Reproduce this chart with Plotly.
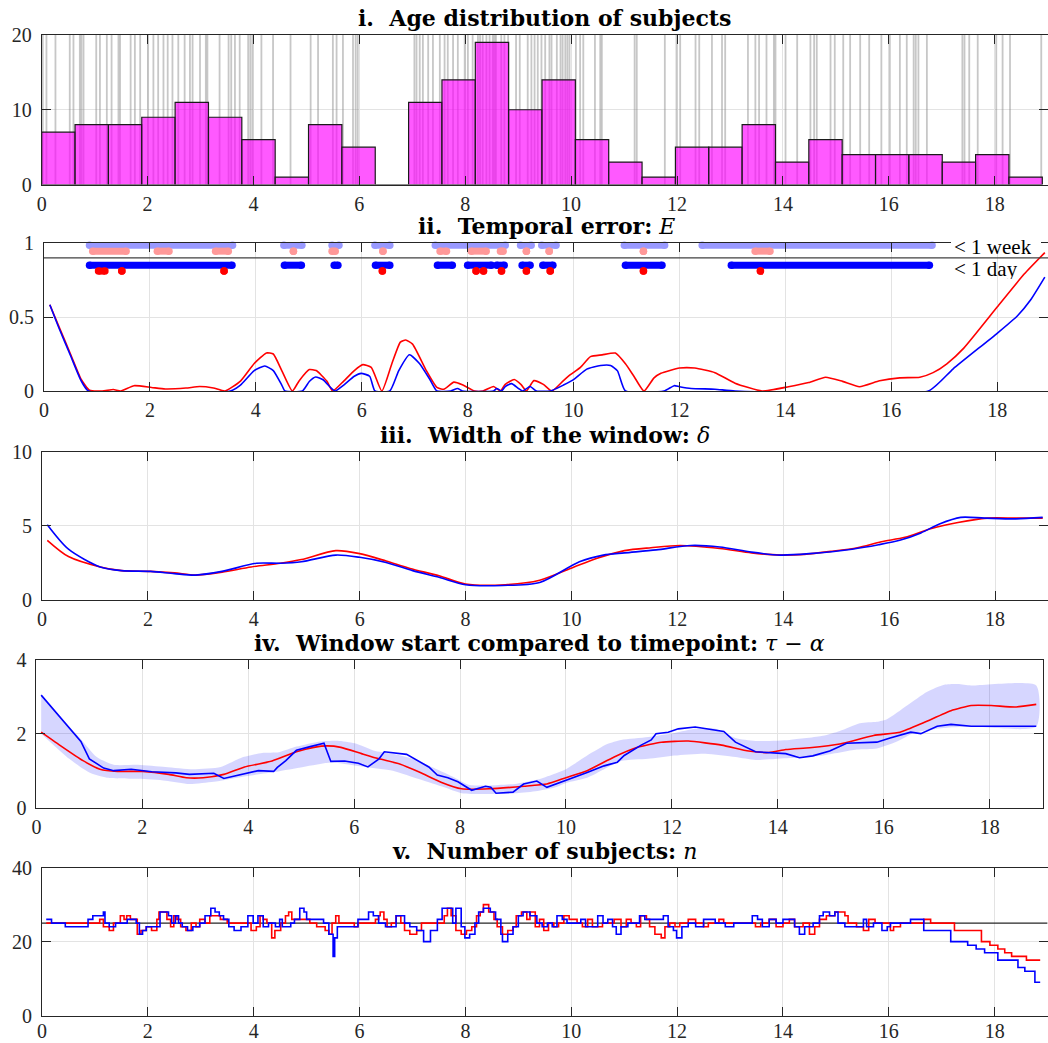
import plotly.graph_objects as go

W, H = 1048, 1043

# ---------------- data ----------------
# Panel i: histogram of subject ages (30 bins of width 0.63)
bin_width = 0.63
hist_counts = [7, 8, 8, 9, 11, 9, 6, 1, 8, 5, 0, 11, 14, 19, 10, 14, 6, 3, 1, 5,
               5, 8, 3, 6, 4, 4, 4, 3, 4, 1]
subject_ages = [0.02, 0.09, 0.26, 0.53, 0.60, 0.72, 0.75, 0.79, 1.03, 1.10, 1.23, 1.32,
                1.45, 1.48, 1.68, 1.76, 1.86, 2.01, 2.11, 2.20, 2.30, 2.38, 2.47, 2.58,
                2.70, 2.80, 2.85, 2.99, 3.10, 3.13, 3.36, 3.53, 3.58, 3.65, 3.74, 3.90,
                3.94, 3.98, 4.15, 4.37, 4.70, 5.08, 5.22, 5.50, 5.57, 5.69, 5.88, 5.93,
                5.97, 7.04, 7.08, 7.14, 7.20, 7.30, 7.39, 7.52, 7.61, 7.67, 7.77, 7.86,
                7.99, 8.05, 8.14, 8.24, 8.28, 8.33, 8.40, 8.46, 8.52, 8.55, 8.58, 8.68,
                8.74, 8.81, 8.96, 9.03, 9.18, 9.25, 9.31, 9.37, 9.44, 9.51, 9.59, 9.63,
                9.73, 9.80, 9.84, 9.89, 9.93, 9.97, 10.09, 10.17, 10.23, 10.45, 10.55,
                10.58, 11.20, 11.24, 11.77, 11.99, 12.06, 12.35, 12.42, 12.66, 12.85,
                12.91, 13.34, 13.48, 13.55, 13.69, 13.83, 13.86, 14.05, 14.27, 14.52,
                14.59, 14.64, 14.90, 14.98, 15.14, 15.27, 15.46, 15.63, 15.86, 16.02,
                16.21, 16.34, 16.47, 16.51, 16.56, 16.72, 17.39, 17.43, 17.52, 17.68,
                18.03, 18.15, 18.29, 18.88]

# Panel ii: temporal error E
err_red_x = [0.11, 0.3, 0.5, 0.7, 0.86, 1.1, 1.31, 1.45, 1.70, 2.03, 2.29, 2.68, 2.94, 3.2,
             3.42, 3.71, 3.97, 4.2, 4.33, 4.49, 4.69, 4.82, 5.01, 5.14, 5.34, 5.45, 5.66,
             5.86, 6.02, 6.18, 6.38, 6.57, 6.73, 6.83, 6.96, 7.22, 7.42, 7.55, 7.74, 7.90,
             8.13, 8.29, 8.49, 8.62, 8.71, 8.88, 9.01, 9.11, 9.25, 9.43, 9.59, 9.81, 9.94,
             10.13, 10.32, 10.54, 10.79, 10.98, 11.14, 11.33, 11.52, 11.65, 12.0, 12.29,
             12.67, 13.05, 13.56, 14.06, 14.44, 14.76, 15.08, 15.4, 15.78, 16.16, 16.54,
             16.79, 17.05, 17.37, 18.0, 18.51, 18.9]
err_red_y = [0.583, 0.42, 0.25, 0.08, 0.005, 0.0, 0.01, 0.0, 0.036, 0.024, 0.014, 0.02, 0.03,
             0.02, 0.0, 0.067, 0.186, 0.257, 0.25, 0.138, 0.0, 0.07, 0.145, 0.138, 0.067, 0.0,
             0.067, 0.138, 0.178, 0.16, 0.0, 0.186, 0.33, 0.345, 0.317, 0.138, 0.024, 0.012,
             0.06, 0.043, 0.0, 0.0, 0.03, 0.0, 0.045, 0.078, 0.043, 0.0, 0.07, 0.045, 0.0,
             0.07, 0.11, 0.16, 0.232, 0.244, 0.256, 0.184, 0.10, 0.0, 0.089, 0.12, 0.155,
             0.155, 0.124, 0.053, 0.0, 0.029, 0.057, 0.093, 0.065, 0.029, 0.069, 0.089,
             0.093, 0.124, 0.184, 0.29, 0.567, 0.79, 0.935]
err_blue_x = [0.11, 0.3, 0.5, 0.7, 0.84, 3.52, 3.71, 3.97, 4.17, 4.33, 4.49, 4.55, 4.88, 5.01,
              5.13, 5.27, 5.43, 5.5, 5.66, 5.86, 5.99, 6.15, 6.25, 6.53, 6.70, 6.90, 7.09,
              7.29, 7.42, 7.68, 7.81, 7.9, 8.49, 8.55, 8.64, 8.71, 8.83, 8.96, 9.04, 9.18,
              9.3, 9.56, 9.81, 10.0, 10.25, 10.51, 10.7, 10.83, 10.98, 11.71, 11.9, 12.0,
              12.22, 12.67, 13.05, 16.7, 17.17, 18.0, 18.38, 18.63, 18.9]
err_blue_y = [0.583, 0.41, 0.24, 0.07, 0.0, 0.0, 0.04, 0.138, 0.169, 0.138, 0.04, 0.0, 0.0,
              0.064, 0.095, 0.076, 0.017, 0.0, 0.04, 0.1, 0.119, 0.1, 0.0, 0.0, 0.138, 0.245,
              0.186, 0.076, 0.0, 0.0, 0.017, 0.0, 0.0, 0.017, 0.0, 0.03, 0.05, 0.017, 0.0,
              0.03, 0.0, 0.0, 0.04, 0.077, 0.148, 0.172, 0.172, 0.136, 0.0, 0.0, 0.036,
              0.029, 0.017, 0.012, 0.0, 0.0, 0.15, 0.39, 0.507, 0.615, 0.77]
err_threshold = 0.9

# intervals where the error is below the thresholds (dot rows)
week_blue_start = [0.86, 4.53, 5.44, 6.25, 7.39, 9.00, 9.40, 10.96, 12.43]
week_blue_end = [3.56, 4.87, 5.57, 6.53, 8.71, 9.20, 9.67, 11.72, 16.77]
week_red_start = [0.92, 2.14, 3.24, 4.71, 5.44, 6.40, 7.48, 8.07, 8.62, 9.11, 9.54, 11.32, 13.43]
week_red_end = [1.55, 2.36, 3.48, 4.71, 5.50, 6.40, 7.60, 8.35, 8.67, 9.11, 9.54, 11.32, 13.71]
day_blue_start = [0.86, 4.54, 5.48, 6.26, 7.43, 8.00, 8.55, 9.03, 9.42, 10.98, 12.98]
day_blue_end = [3.55, 4.86, 5.55, 6.53, 7.71, 8.45, 8.69, 9.18, 9.61, 11.67, 16.72]
day_red_start = [1.03, 1.47, 3.40, 6.39, 8.16, 8.30, 8.64, 9.11, 9.56, 11.32, 13.53]
day_red_end = [1.15, 1.47, 3.40, 6.39, 8.16, 8.30, 8.64, 9.11, 9.56, 11.32, 13.53]
row_levels = {"week_blue": 0.985, "week_red": 0.945, "day_blue": 0.85, "day_red": 0.81}

# Panel iii: width of the window delta
wid_red_x = [0.1, 0.5, 1.1, 1.5, 2.05, 2.5, 2.9, 3.4, 3.95, 4.5, 4.9, 5.55, 6.0, 6.5, 6.95,
             7.5, 8.0, 8.75, 9.4, 10.05, 10.5, 11.0, 11.5, 12.05, 12.8, 13.4, 13.95, 14.4,
             14.9, 15.4, 15.85, 16.3, 16.8, 17.3, 17.85, 18.4, 18.9]
wid_red_y = [4.0, 2.9, 2.2, 1.95, 1.9, 1.8, 1.65, 1.85, 2.2, 2.45, 2.7, 3.3, 3.1, 2.6, 2.1,
             1.6, 1.05, 1.0, 1.3, 2.2, 2.8, 3.3, 3.5, 3.65, 3.45, 3.15, 3.0, 3.05, 3.25, 3.5,
             3.9, 4.2, 4.8, 5.2, 5.5, 5.5, 5.5]
wid_blue_x = [0.1, 0.5, 1.1, 1.5, 2.05, 2.5, 2.9, 3.4, 4.05, 4.5, 4.9, 5.55, 6.0, 6.5, 7.0,
              7.5, 8.0, 8.7, 9.4, 10.15, 10.6, 11.0, 11.6, 12.25, 12.8, 13.4, 13.95, 14.5,
              15.3, 15.8, 16.2, 16.6, 16.95, 17.35, 17.8, 18.4, 18.9]
wid_blue_y = [5.05, 3.4, 2.2, 1.95, 1.9, 1.75, 1.65, 1.9, 2.45, 2.45, 2.55, 3.0, 2.85, 2.5,
              1.95, 1.5, 1.0, 0.95, 1.15, 2.55, 3.0, 3.15, 3.35, 3.65, 3.55, 3.2, 3.0, 3.1,
              3.4, 3.7, 4.0, 4.5, 5.1, 5.55, 5.5, 5.45, 5.55]

# Panel iv: window start compared to timepoint tau - alpha
st_red_x = [0.09, 0.48, 0.88, 1.2, 1.53, 2.01, 2.5, 2.83, 3.15, 3.54, 3.93, 4.45, 4.91, 5.24,
            5.49, 5.75, 6.14, 6.47, 6.86, 7.25, 7.64, 8.03, 8.55, 9.21, 9.64, 10.0, 10.4,
            10.91, 11.35, 11.8, 12.31, 12.94, 13.45, 13.83, 14.15, 14.6, 15.17, 15.81,
            16.31, 16.76, 17.27, 17.65, 18.03, 18.48, 18.88]
st_red_y = [2.04, 1.65, 1.27, 1.04, 0.98, 0.98, 0.9, 0.81, 0.81, 0.9, 1.1, 1.26, 1.51, 1.63,
            1.67, 1.63, 1.46, 1.32, 1.18, 0.95, 0.69, 0.51, 0.51, 0.58, 0.64, 0.81, 1.0,
            1.37, 1.63, 1.77, 1.8, 1.69, 1.53, 1.49, 1.57, 1.62, 1.72, 1.95, 2.04, 2.3,
            2.62, 2.76, 2.76, 2.72, 2.79]
st_blue_x = [0.09, 0.84, 1.0, 1.27, 1.46, 1.79, 2.18, 2.63, 2.89, 3.35, 3.54, 3.87, 4.19,
             4.48, 4.55, 4.71, 4.91, 5.17, 5.43, 5.56, 5.82, 6.08, 6.26, 6.47, 6.57, 6.99,
             7.41, 7.57, 7.77, 7.96, 8.22, 8.48, 8.58, 8.68, 9.0, 9.2, 9.45, 9.64, 10.0,
             10.4, 10.72, 10.97, 11.1, 11.42, 11.61, 11.7, 11.93, 12.12, 12.44, 12.69,
             12.98, 13.2, 13.58, 14.15, 14.41, 14.66, 14.98, 15.3, 15.87, 16.12, 16.51,
             16.7, 17.01, 17.27, 17.65, 18.88]
st_blue_y = [3.04, 1.79, 1.32, 1.07, 1.0, 1.04, 0.97, 0.94, 0.9, 0.93, 0.79, 0.9, 1.0, 0.98,
             1.09, 1.27, 1.55, 1.65, 1.74, 1.25, 1.26, 1.2, 1.1, 1.32, 1.51, 1.44, 1.1, 0.88,
             0.81, 0.7, 0.47, 0.58, 0.55, 0.39, 0.42, 0.64, 0.72, 0.55, 0.73, 0.95, 1.13,
             1.23, 1.41, 1.69, 1.83, 2.0, 2.04, 2.13, 2.18, 2.13, 2.06, 1.77, 1.51, 1.46,
             1.35, 1.4, 1.53, 1.74, 1.77, 1.88, 2.04, 2.0, 2.2, 2.25, 2.2, 2.2]
band_up_x = [0.09, 0.48, 0.84, 1.14, 1.46, 1.92, 2.44, 2.96, 3.48, 3.87, 4.26, 4.58, 4.91,
             5.36, 5.69, 6.01, 6.4, 6.79, 7.12, 7.51, 7.9, 8.16, 8.55, 9.07, 9.46, 9.75,
             10.0, 10.4, 10.78, 11.04, 11.55, 12.05, 12.44, 12.82, 13.2, 13.58, 14.22,
             14.85, 15.17, 15.55, 15.87, 16.06, 16.44, 16.82, 17.14, 17.4, 17.65, 18.88]
band_up_y = [3.04, 2.4, 1.85, 1.37, 1.16, 1.16, 1.1, 1.04, 1.1, 1.35, 1.48, 1.5, 1.65, 1.79,
             1.81, 1.74, 1.53, 1.44, 1.32, 1.07, 0.81, 0.62, 0.6, 0.65, 0.76, 0.9, 1.04,
             1.41, 1.72, 1.83, 1.91, 2.02, 2.13, 2.13, 1.88, 1.8, 1.83, 1.94, 2.07, 2.28,
             2.32, 2.39, 2.76, 3.13, 3.32, 3.34, 3.3, 3.3]
band_lo_x = [0.09, 0.62, 1.0, 1.33, 1.92, 2.44, 2.89, 3.35, 3.87, 4.52, 5.04, 5.56, 5.82,
             6.21, 6.73, 7.25, 7.7, 8.03, 8.55, 9.07, 9.46, 9.8, 10.0, 10.4, 10.72, 11.04,
             11.55, 12.05, 12.63, 13.2, 13.58, 14.22, 14.85, 15.49, 15.87, 16.25, 16.57,
             16.89, 17.2, 17.65, 18.88]
band_lo_y = [2.0, 1.32, 0.95, 0.81, 0.78, 0.73, 0.64, 0.7, 0.83, 0.97, 1.1, 1.22, 1.18, 1.1,
             1.0, 0.76, 0.55, 0.39, 0.37, 0.39, 0.45, 0.55, 0.67, 0.81, 1.04, 1.26, 1.32,
             1.41, 1.46, 1.37, 1.29, 1.34, 1.41, 1.57, 1.6, 1.79, 2.02, 2.11, 2.16, 2.19,
             2.19]

# Panel v: number of subjects n (step curves)
n_red_x = [0.08, 1.09, 1.16, 1.27, 1.35, 1.48, 1.55, 1.6, 1.67, 1.8, 1.87, 1.97, 2.07, 2.17,
           2.21, 2.36, 2.43, 2.49, 2.55, 2.62, 2.72, 2.82, 2.91, 2.98, 3.08, 3.17, 3.37,
           3.5, 3.95, 4.05, 4.12, 4.18, 4.25, 4.34, 4.4, 4.51, 4.6, 4.66, 4.72, 5.06, 5.19,
           5.35, 5.42, 5.48, 5.55, 5.61, 5.9, 5.97, 6.3, 6.36, 6.39, 6.46, 6.52, 6.6, 6.69,
           6.78, 6.85, 6.95, 7.08, 7.17, 7.6, 7.66, 7.73, 7.82, 7.92, 8.02, 8.12, 8.21,
           8.28, 8.34, 8.44, 8.54, 8.6, 8.7, 8.8, 8.9, 8.96, 9.06, 9.16, 9.22, 9.32, 9.4,
           9.48, 9.57, 9.67, 9.76, 9.86, 9.96, 10.11, 10.21, 10.31, 10.4, 10.59, 10.81,
           10.94, 11.04, 11.13, 11.23, 11.31, 11.42, 11.48, 11.58, 11.7, 11.77, 11.86,
           11.96, 12.05, 12.21, 12.35, 12.5, 12.59, 12.79, 12.88, 13.48, 13.58, 13.74,
           13.87, 14.0, 14.12, 14.22, 14.38, 14.5, 14.6, 14.69, 14.82, 14.98, 15.17, 15.23,
           15.39, 15.52, 15.62, 15.74, 16.03, 16.09, 16.22, 16.66, 16.79, 17.24, 17.75,
           17.91, 18.06, 18.19, 18.32, 18.6, 18.86]
n_red_y = [25, 26, 24, 23, 25, 27, 26, 27, 26, 22, 23, 24, 23, 26, 28, 26, 24, 27, 26, 24,
           23, 25, 24, 26, 25, 27, 26, 25, 23, 24, 27, 26, 25, 21, 23, 25, 27, 28, 26, 25,
           24, 23, 22, 25, 27, 25, 24, 25, 26, 27, 28, 26, 24, 25, 27, 25, 23, 22, 23, 25,
           27, 29, 27, 23, 22, 23, 24, 27, 28, 30, 28, 26, 24, 22, 23, 24, 27, 28, 26, 28,
           24, 26, 23, 25, 24, 25, 27, 26, 25, 24, 26, 24, 25, 26, 24, 26, 25, 24, 27, 26,
           24, 22, 21, 24, 25, 24, 25, 26, 25, 24, 25, 26, 25, 24, 25, 26, 24, 25, 26, 24,
           25, 22, 24, 26, 27, 28, 27, 25, 24, 23, 26, 25, 23, 24, 25, 26, 25, 23, 20, 19,
           18, 17, 16, 15, 15]
n_blue_x = [0.08, 0.18, 0.44, 0.87, 0.96, 1.16, 1.19, 1.27, 1.39, 1.61, 1.78, 1.84, 1.9,
            1.97, 2.23, 2.39, 2.45, 2.52, 2.58, 2.65, 2.75, 2.85, 2.98, 3.08, 3.19, 3.27,
            3.35, 3.43, 3.53, 3.63, 3.76, 3.89, 3.99, 4.08, 4.18, 4.28, 4.41, 4.49, 4.54,
            4.7, 4.77, 4.87, 4.95, 5.0, 5.32, 5.42, 5.5, 5.53, 5.58, 5.97, 6.17, 6.26, 6.36,
            6.49, 6.69, 6.85, 6.95, 7.08, 7.21, 7.34, 7.47, 7.56, 7.76, 7.82, 7.92, 7.99,
            8.08, 8.18, 8.25, 8.34, 8.47, 8.57, 8.67, 8.7, 8.8, 8.9, 9.0, 9.09, 9.22, 9.35,
            9.45, 9.55, 9.64, 9.73, 9.83, 9.92, 10.18, 10.27, 10.5, 10.6, 10.69, 10.78,
            10.85, 10.94, 11.07, 11.29, 11.39, 11.74, 11.83, 11.93, 11.99, 12.09, 12.21,
            12.35, 12.5, 12.72, 12.91, 13.07, 13.42, 13.52, 13.61, 13.74, 13.87, 14.0,
            14.22, 14.31, 14.41, 14.57, 14.69, 14.76, 14.88, 14.98, 15.04, 15.17, 15.52,
            15.58, 15.71, 15.87, 15.97, 16.03, 16.41, 16.66, 17.17, 17.49, 17.65, 17.81,
            18.06, 18.44, 18.57, 18.76, 18.86]
n_blue_y = [26, 25, 24, 26, 27, 28, 25, 24, 25, 26, 25, 22, 23, 24, 28, 27, 25, 27, 25, 24,
            23, 24, 25, 27, 29, 28, 27, 26, 24, 23, 24, 27, 25, 27, 24, 25, 24, 26, 24, 25,
            26, 29, 28, 26, 25, 22, 16, 21, 24, 26, 28, 27, 25, 24, 27, 25, 24, 23, 20, 23,
            26, 29, 25, 29, 24, 21, 22, 25, 28, 29, 28, 26, 22, 20, 22, 24, 27, 28, 27, 25,
            24, 25, 24, 27, 26, 25, 26, 24, 27, 25, 26, 24, 22, 24, 25, 27, 26, 27, 24, 23,
            21, 24, 25, 24, 26, 25, 24, 25, 27, 26, 24, 26, 25, 26, 24, 22, 24, 25, 27, 28,
            27, 28, 25, 24, 26, 24, 25, 23, 24, 25, 26, 23, 20, 19, 18, 17, 15, 13, 12, 9, 9]
n_target = 25

x_ticks = [0, 2, 4, 6, 8, 10, 12, 14, 16, 18]

# ---------------- layout geometry (pixels) ----------------
# (left, right, top, bottom, xmax)
panels = [
    (41.7, 1047.6, 35.0, 184.5, 19.0),
    (44.0, 1048.0, 243.0, 391.0, 18.96),
    (42.0, 1048.0, 451.5, 599.5, 19.0),
    (36.4, 1042.6, 659.6, 807.7, 19.0),
    (42.0, 1047.6, 867.6, 1015.6, 19.0),
]
x_label_standoff = [1, 1, 1, 1, -3]
y_specs = [
    ([0, 10, 20], ["0", "10", "20"], [0, 20]),
    ([0, 0.5, 1], ["0", "0.5", "1"], [0, 1.0]),
    ([0, 5, 10], ["0", "5", "10"], [0, 10]),
    ([0, 2, 4], ["0", "2", "4"], [0, 4]),
    ([0, 20, 40], ["0", "20", "40"], [0, 40]),
]
titles = [
    "<b>i.&nbsp; Age distribution of subjects</b>",
    "<b>ii.&nbsp; Temporal error:</b> <i>E</i>",
    "<b>iii.&nbsp; Width of the window:</b> <i>δ</i>",
    "<b>iv.&nbsp; Window start compared to timepoint:</b> <i>τ</i>&nbsp;−&nbsp;<i>α</i>",
    "<b>v.&nbsp; Number of subjects:</b> <i>n</i>",
]

AX = "#262626"
GRID = "#e3e3e3"
TICKFONT = dict(family="Liberation Serif", size=20, color=AX)
RED = "#ff0000"
BLUE = "#0000ff"

fig = go.Figure()


def ax_names(i):
    return ("x" if i == 0 else f"x{i+1}"), ("y" if i == 0 else f"y{i+1}")


# ---- panel i ----
xa, ya = ax_names(0)
fig.add_trace(go.Bar(x=subject_ages, y=[y_specs[0][2][1]] * len(subject_ages),
                     width=0.034, marker=dict(color="rgba(130,130,130,0.45)", line=dict(width=0)),
                     xaxis=xa, yaxis=ya, showlegend=False, hoverinfo="skip"))
bin_centers = [(k + 0.5) * bin_width for k in range(len(hist_counts))]
fig.add_trace(go.Bar(x=bin_centers, y=hist_counts, width=bin_width,
                     marker=dict(color="rgba(255,0,255,0.65)", line=dict(color="#1a1a1a", width=1.2)),
                     xaxis=xa, yaxis=ya, showlegend=False))

# ---- panel ii ----
xa, ya = ax_names(1)
fig.add_trace(go.Scatter(x=err_red_x, y=err_red_y, mode="lines",
                         line=dict(color=RED, width=1.6, shape="spline", smoothing=0.5),
                         xaxis=xa, yaxis=ya, showlegend=False))
fig.add_trace(go.Scatter(x=err_blue_x, y=err_blue_y, mode="lines",
                         line=dict(color=BLUE, width=1.6, shape="spline", smoothing=0.5),
                         xaxis=xa, yaxis=ya, showlegend=False))
fig.add_trace(go.Scatter(x=[0, panels[1][4]], y=[err_threshold, err_threshold], mode="lines",
                         line=dict(color="#404040", width=1.3), xaxis=xa, yaxis=ya,
                         showlegend=False, cliponaxis=False))


def dot_row(starts, ends, level, color):
    xs, ys = [], []
    for a, b in zip(starts, ends):
        xs += [a, b, None]
        ys += [level, level, None]
    return go.Scatter(x=xs, y=ys, mode="lines+markers", line=dict(color=color, width=7),
                      marker=dict(color=color, size=7.5, line=dict(width=0)),
                      xaxis=xa, yaxis=ya, showlegend=False, cliponaxis=False, connectgaps=False)


fig.add_trace(dot_row(week_blue_start, week_blue_end, row_levels["week_blue"], "#9999ff"))
fig.add_trace(dot_row(week_red_start, week_red_end, row_levels["week_red"], "#ff9999"))
fig.add_trace(dot_row(day_blue_start, day_blue_end, row_levels["day_blue"], BLUE))
fig.add_trace(dot_row(day_red_start, day_red_end, row_levels["day_red"], RED))

# ---- panel iii ----
xa, ya = ax_names(2)
fig.add_trace(go.Scatter(x=wid_red_x, y=wid_red_y, mode="lines", line=dict(color=RED, width=1.6, shape="spline", smoothing=0.8),
                         xaxis=xa, yaxis=ya, showlegend=False))
fig.add_trace(go.Scatter(x=wid_blue_x, y=wid_blue_y, mode="lines", line=dict(color=BLUE, width=1.6, shape="spline", smoothing=0.8),
                         xaxis=xa, yaxis=ya, showlegend=False))

# ---- panel iv ----
xa, ya = ax_names(3)
fig.add_trace(go.Scatter(x=band_up_x + band_lo_x[::-1], y=band_up_y + band_lo_y[::-1],
                         mode="lines", fill="toself", fillcolor="rgba(0,0,255,0.16)",
                         line=dict(width=0, shape="spline", smoothing=0.6), xaxis=xa, yaxis=ya, showlegend=False))
fig.add_trace(go.Scatter(x=st_red_x, y=st_red_y, mode="lines", line=dict(color=RED, width=1.6, shape="spline", smoothing=0.5),
                         xaxis=xa, yaxis=ya, showlegend=False))
fig.add_trace(go.Scatter(x=st_blue_x, y=st_blue_y, mode="lines", line=dict(color=BLUE, width=1.6),
                         xaxis=xa, yaxis=ya, showlegend=False))

# ---- panel v ----
xa, ya = ax_names(4)
fig.add_trace(go.Scatter(x=[0, panels[4][4]], y=[n_target, n_target], mode="lines",
                         line=dict(color="#262626", width=1.2), xaxis=xa, yaxis=ya, showlegend=False))
fig.add_trace(go.Scatter(x=n_red_x, y=n_red_y, mode="lines", line=dict(color=RED, width=1.6, shape="hv"),
                         xaxis=xa, yaxis=ya, showlegend=False))
fig.add_trace(go.Scatter(x=n_blue_x, y=n_blue_y, mode="lines", line=dict(color=BLUE, width=1.6, shape="hv"),
                         xaxis=xa, yaxis=ya, showlegend=False))

# ---------------- axes ----------------
layout = dict(width=W, height=H, margin=dict(l=0, r=0, t=0, b=0, pad=0), autosize=False,
              paper_bgcolor="white", plot_bgcolor="white", barmode="overlay",
              showlegend=False)
annotations = []
shapes = []
for i, (l, r, t, b, xmax) in enumerate(panels):
    xk = "xaxis" if i == 0 else f"xaxis{i+1}"
    yk = "yaxis" if i == 0 else f"yaxis{i+1}"
    xa, ya = ax_names(i)
    common = dict(showline=True, linecolor=AX, linewidth=1, mirror="ticks", ticks="inside",
                  ticklen=9, tickcolor=AX, tickwidth=1, showgrid=True, gridcolor=GRID,
                  gridwidth=1, zeroline=False, tickfont=TICKFONT, automargin=False)
    layout[xk] = dict(common, domain=[l / W, r / W], range=[0, xmax], tickvals=x_ticks,
                      ticktext=[str(v) for v in x_ticks], anchor=ya,
                      ticklabelstandoff=x_label_standoff[i])
    tv, tt, yr = y_specs[i]
    layout[yk] = dict(common, domain=[1 - b / H, 1 - t / H], range=yr, tickvals=tv,
                      ticktext=tt, anchor=xa, ticklabelstandoff=5)
    annotations.append(dict(text=titles[i], xref="paper", yref="paper", x=(l + r) / 2 / W,
                            y=1 - (t - 17) / H, xanchor="center", yanchor="middle",
                            showarrow=False, font=dict(family="DejaVu Serif", size=22, color="black")))

# labels next to the threshold line in panel ii
shapes.append(dict(type="rect", xref="paper", yref="paper", x0=951 / W, x1=1041 / W,
                   y0=1 - 252 / H, y1=1 - 236 / H, fillcolor="white", line=dict(width=0),
                   layer="above"))
annotations.append(dict(text="&lt; 1 week", xref="paper", yref="paper", x=953 / W, y=1 - 247 / H,
                        xanchor="left", yanchor="middle", showarrow=False, height=20,
                        borderpad=0, valign="middle",
                        font=dict(family="Liberation Serif", size=21, color="black")))
annotations.append(dict(text="&lt; 1 day", xref="paper", yref="paper", x=953 / W, y=1 - 268.5 / H,
                        xanchor="left", yanchor="middle", showarrow=False, height=20,
                        borderpad=0, valign="middle",
                        font=dict(family="Liberation Serif", size=21, color="black")))
layout["annotations"] = annotations
layout["shapes"] = shapes
fig.update_layout(**layout)

# remove the default page margin right away so the figure fills the window
page_fix = ("}); document.body.style.margin='0px'; "
            "document.body.style.overflow='hidden'; (function(){")
fig.write_html("out.html", config={"displayModeBar": False}, post_script=page_fix)
